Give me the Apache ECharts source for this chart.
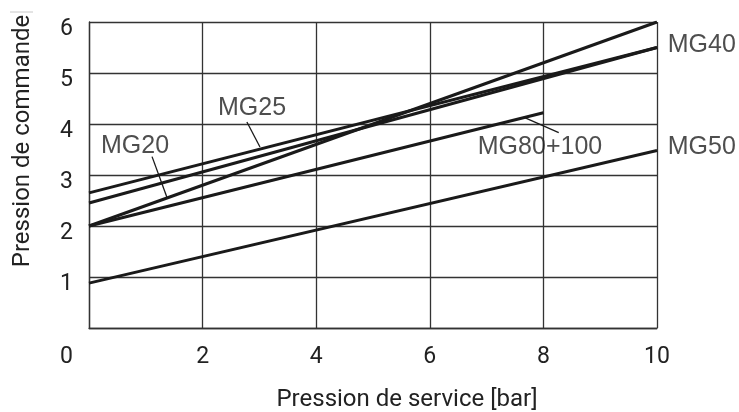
<!DOCTYPE html>
<html>
<head>
<meta charset="utf-8">
<script src="https://cdn.jsdelivr.net/npm/echarts@6/dist/echarts.min.js"></script>
<style>html,body{margin:0;padding:0;background:#fff}#c{width:739px;height:412px}</style>
</head>
<body>
<div id="c"></div>
<script>
// Data
const xTicks = [0, 2, 4, 6, 8, 10];
const yTicks = [0, 1, 2, 3, 4, 5, 6];
const mg20 = [[0, 2.0], [10, 6.0]];
const mg25 = [[0, 2.65], [10, 5.5]];
const mg40 = [[0, 2.45], [10, 5.5]];
const mg50 = [[0, 0.88], [10, 3.48]];
const mg80 = [[0, 2.0], [8, 4.22]];
// Annotation labels [x, y, text] and leader lines in data coordinates
const labelsCenter = [[2.87, 4.32, 'MG25'], [0.81, 3.57, 'MG20'], [7.94, 3.55, 'MG80+100']];
const labelsRight = [[10.19, 5.55, 'MG40'], [10.19, 3.55, 'MG50']];
const leaderMG25 = [[2.78, 4.04], [3.01, 3.55]];
const leaderMG20 = [[1.11, 3.36], [1.37, 2.57]];
const leaderMG80 = [[7.68, 4.12], [8.27, 3.83]];

const chart = echarts.init(document.getElementById('c'), null, {renderer: 'canvas'});
const lineCol = '#1a1a1a';
const txtCol = '#222';
function dataLine(name, d) {
  return {name: name, type: 'line', data: d, symbol: 'none', silent: true,
    lineStyle: {color: lineCol, width: 3}, z: 3};
}
function leader(d) {
  return {type: 'line', data: d, symbol: 'none', silent: true,
    lineStyle: {color: lineCol, width: 1.3}, z: 4};
}
function labelSeries(d, align) {
  return {type: 'scatter', symbolSize: 0, silent: true, z: 5, clip: false,
    data: d.map(p => ({value: [p[0], p[1]], name: p[2]})),
    label: {show: true, position: 'inside', formatter: p => p.name,
      color: txtCol, fontFamily: 'Liberation Sans', fontSize: 25,
      align: align, verticalAlign: 'middle'}};
}
chart.setOption({
  animation: false,
  backgroundColor: '#fff',
  grid: {left: 89, right: 82, top: 22, bottom: 84, containLabel: false},
  xAxis: {type: 'value', min: 0, max: 10, interval: 2,
    axisLine: {show: true, lineStyle: {color: '#333', width: 1.3}},
    axisTick: {show: false},
    splitLine: {show: true, lineStyle: {color: '#333', width: 1.3}},
    axisLabel: {margin: 18, color: txtCol, fontFamily: 'Roboto', fontSize: 23,
      formatter: v => v === 0 ? '{z|0}' : String(v),
      rich: {z: {fontFamily: 'Roboto', fontSize: 23, color: txtCol, padding: [0, 45, 0, 0]}}}
  },
  yAxis: {type: 'value', min: 0, max: 6, interval: 1,
    axisLine: {show: true, lineStyle: {color: '#333', width: 1.3}},
    axisTick: {show: false},
    splitLine: {show: true, lineStyle: {color: '#333', width: 1.3}},
    axisLabel: {margin: 16, color: txtCol, fontFamily: 'Roboto', fontSize: 23,
      formatter: v => v === 0 ? '' : '{d|' + v + '}',
      rich: {d: {fontFamily: 'Roboto', fontSize: 23, color: txtCol, padding: [14, 0, 0, 0]}}}
  },
  graphic: [
    {type: 'text', x: 407, y: 400, style: {text: 'Pression de service [bar]',
      font: '24px Roboto', fill: txtCol, textAlign: 'center', textVerticalAlign: 'middle'}},
    {type: 'text', x: 23, y: 141, rotation: Math.PI / 2, style: {text: 'Pression de commande',
      font: '24px Roboto', fill: txtCol, textAlign: 'center', textVerticalAlign: 'middle'}},
    {type: 'line', shape: {x1: 10, y1: 12, x2: 33, y2: 12}, style: {stroke: '#c8c8c8', lineWidth: 1}}
  ],
  series: [
    dataLine('MG20', mg20), dataLine('MG25', mg25), dataLine('MG40', mg40),
    dataLine('MG50', mg50), dataLine('MG80+100', mg80),
    leader(leaderMG25), leader(leaderMG20), leader(leaderMG80),
    labelSeries(labelsCenter, 'center'), labelSeries(labelsRight, 'left')
  ]
});
</script>
</body>
</html>
